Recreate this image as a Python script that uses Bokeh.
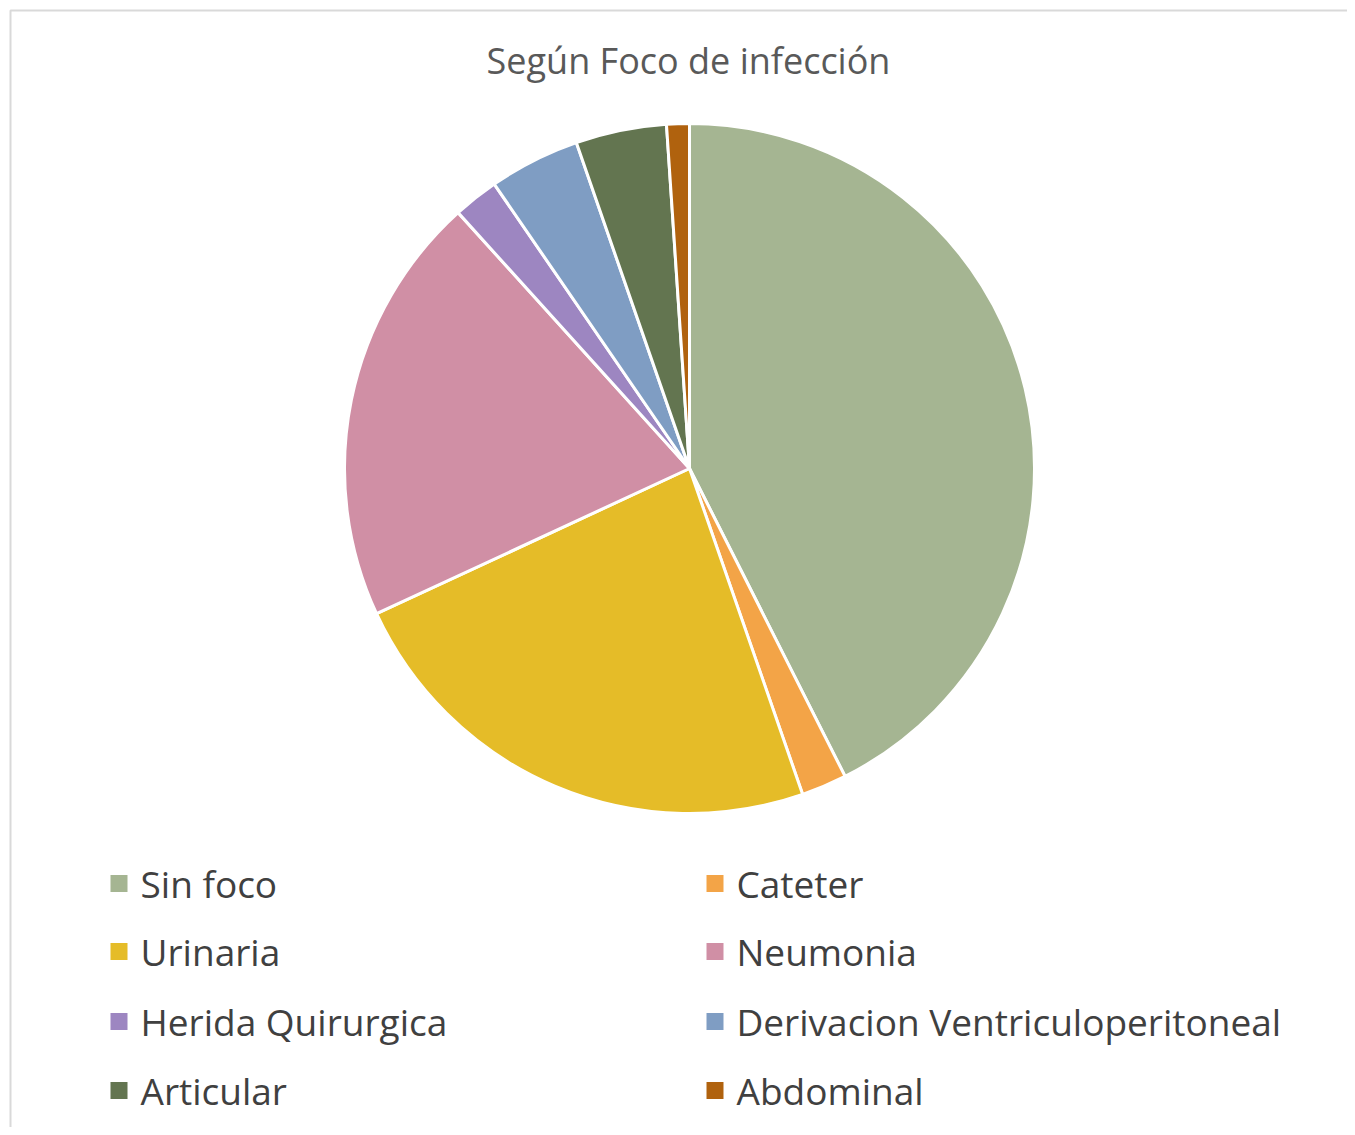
import numpy as np
from bokeh.plotting import figure
from bokeh.models import Range1d
from bokeh.core.properties import value
from bokeh.embed import file_html
from bokeh.resources import INLINE

title = "Según Foco de infección"
categories = ["Sin foco", "Cateter", "Urinaria", "Neumonia", "Herida Quirurgica",
              "Derivacion Ventriculoperitoneal", "Articular", "Abdominal"]
counts = [40, 2, 22, 19, 2, 4, 4, 1]
colors = ["#A5B592", "#F3A447", "#E5BC28", "#D08FA5", "#9D86C1",
          "#7F9DC3", "#637550", "#B0620E"]

W, H = 1347, 1127
p = figure(width=W, height=H, output_backend="svg", toolbar_location=None,
           x_range=Range1d(0, W), y_range=Range1d(0, H), min_border=0,
           match_aspect=False)
p.axis.visible = False
p.grid.visible = False
p.outline_line_color = None
p.background_fill_color = "white"
p.border_fill_color = "white"

def X(px):
    return px
def Y(py):
    return H - py

# chart frame (top and left edges visible, rest cut off)
p.line(x=[X(10), X(10), X(1400)], y=[Y(1200), Y(10), Y(10)], line_color="#d9d9d9", line_width=2)

# pie
vals = np.array(counts, dtype=float)
frac = vals / vals.sum()
cum = np.concatenate([[0], np.cumsum(frac)])
starts = np.pi / 2 - 2 * np.pi * cum[:-1]
ends = np.pi / 2 - 2 * np.pi * cum[1:]
cx, cy, r = X(689), Y(468), 345
p.wedge(x=cx, y=cy, radius=r, start_angle=list(starts), end_angle=list(ends),
        direction="clock", fill_color=colors, line_color="white", line_width=3)

# title
p.text(x=[X(688)], y=[Y(60)], text=[title], text_align="center", text_baseline="middle",
       text_font=value("Open Sans"), text_font_size="36px", text_color="#595959")

# legend
col_x = [110, 706]
row_y = [883, 951, 1021, 1090]
for i, (cat, c) in enumerate(zip(categories, colors)):
    lx = col_x[i % 2]
    ly = row_y[i // 2]
    p.rect(x=[X(lx + 8.5)], y=[Y(ly)], width=17, height=17, fill_color=c, line_color=None)
    p.text(x=[X(lx + 30)], y=[Y(ly)], text=[cat], text_align="left", text_baseline="middle",
           text_font=value("Open Sans"), text_font_size="37px", text_color="#404040")

open("out.html", "w").write(file_html(p, INLINE))
